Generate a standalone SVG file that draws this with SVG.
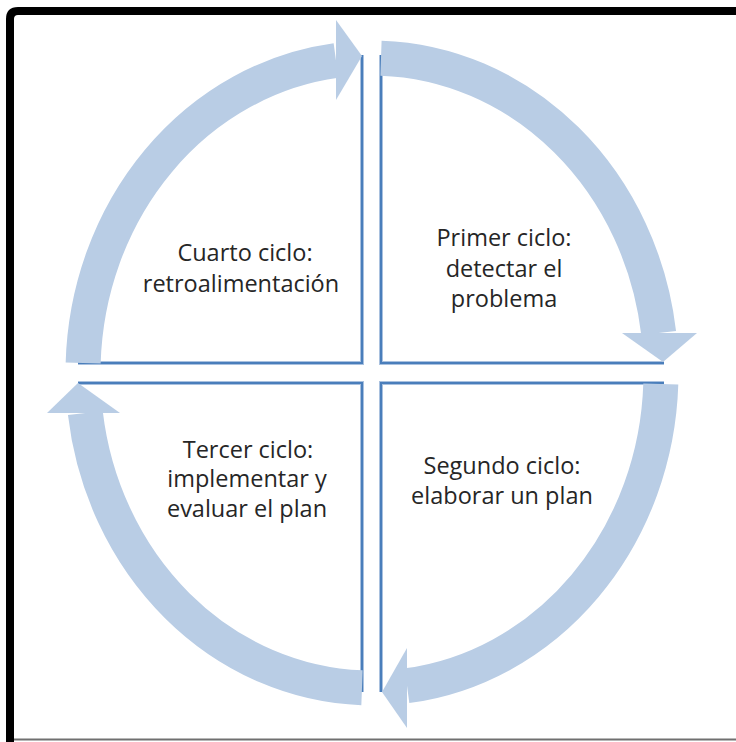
<svg xmlns="http://www.w3.org/2000/svg" width="736" height="742" viewBox="0 0 736 742">
<style>
.band{fill:none;stroke:#b9cde5;stroke-width:35;stroke-linecap:butt}
.head{fill:#b9cde5}
.halo{fill:none;stroke:#a9c1df;stroke-width:4}
.ln{fill:none;stroke:#4a7ebb;stroke-width:2}
.t{font-family:"Open Sans","Liberation Sans",sans-serif;font-size:23.5px;fill:#262626;text-anchor:middle}
</style>
<rect width="736" height="742" fill="#ffffff"/>
<g id="frame">
<path d="M10,742 V19 Q10,11 18,11 H736" fill="none" stroke="#000" stroke-width="8"/>
<line x1="14" y1="739.5" x2="736" y2="739.5" stroke="#707070" stroke-width="2"/>
</g>
<g id="connectors">
<g id="quadrant-lines">
<path class="halo" d="M78,363 H362 V55"/>
<path class="halo" d="M381,55 V363 H664"/>
<path class="halo" d="M381,692 V383 H664"/>
<path class="halo" d="M78,383 H362 V692"/>
<path class="ln" d="M78,363 H362 V55"/>
<path class="ln" d="M381,55 V363 H664"/>
<path class="ln" d="M381,692 V383 H664"/>
<path class="ln" d="M78,383 H362 V692"/>
</g>
<g id="arrow-4-to-1">
<path class="band" d="M83.15,363 A289,315 0 0 1 336,60.5"/>
<polygon class="head" points="336,20 362,56 336,100"/>
</g>
<g id="arrow-1-to-2">
<path class="band" d="M381,58.15 A289,315 0 0 1 658.66,333"/>
<polygon class="head" points="622,333 697,333 663,362"/>
</g>
<g id="arrow-2-to-3">
<path class="band" d="M660.8,384 A289,315 0 0 1 407,685.7"/>
<polygon class="head" points="407,648 407,728 382,692"/>
</g>
<g id="arrow-3-to-4">
<path class="band" d="M362,687.8 A289,315 0 0 1 85.34,413"/>
<polygon class="head" points="47,413 120,413 78,383"/>
</g>
</g>
<g id="node-cuarto">
<text class="t" x="245" y="261">Cuarto ciclo:</text>
<text class="t" x="241" y="292">retroalimentación</text>
</g>
<g id="node-primer">
<text class="t" x="504" y="246">Primer ciclo:</text>
<text class="t" x="504" y="277">detectar el</text>
<text class="t" x="504" y="307">problema</text>
</g>
<g id="node-segundo">
<text class="t" x="502" y="474">Segundo ciclo:</text>
<text class="t" x="502" y="504">elaborar un plan</text>
</g>
<g id="node-tercer">
<text class="t" x="248" y="458">Tercer ciclo:</text>
<text class="t" x="247" y="487">implementar y</text>
<text class="t" x="247" y="517">evaluar el plan</text>
</g>
</svg>
